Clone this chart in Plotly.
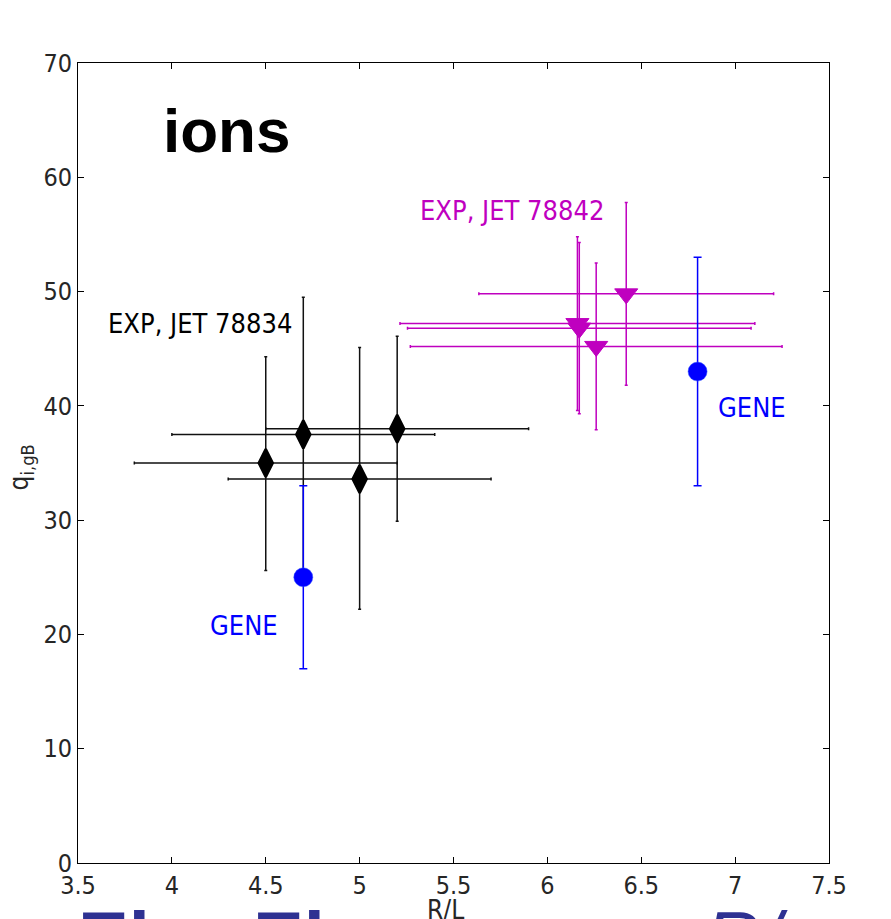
import plotly.graph_objects as go

# ---- data ----
exp1_x = [4.5, 4.7, 5.0, 5.2]
exp1_y = [35.0, 37.5, 33.6, 38.0]
exp1_xerr = [0.70, 0.70, 0.70, 0.70]
exp1_yerr_plus = [9.3, 12.0, 11.5, 8.1]
exp1_yerr_minus = [9.4, 12.0, 11.4, 8.1]

exp2_x = [6.16, 6.17, 6.26, 6.42]
exp2_y = [47.2, 46.8, 45.2, 49.8]
exp2_xerr = [0.945, 0.915, 0.99, 0.785]
exp2_yerr = [7.6, 7.5, 7.3, 8.0]

gene_x = [4.7, 6.8]
gene_y = [25.0, 43.0]
gene_yerr = [8.0, 10.0]

x_ticks = [3.5, 4, 4.5, 5, 5.5, 6, 6.5, 7, 7.5]
y_ticks = [0, 10, 20, 30, 40, 50, 60, 70]

NARROW = "Liberation Sans Narrow, DejaVu Sans Condensed, Arial Narrow, sans-serif"
MAG = "#bf00bf"
BLUE = "#0000ff"

fig = go.Figure()

fig.add_trace(go.Scatter(
    x=exp1_x, y=exp1_y, mode="markers",
    marker=dict(symbol="diamond-tall", size=20, color="black",
                line=dict(color="black", width=2.5)),
    error_x=dict(type="data", array=exp1_xerr, color="#111111", thickness=1.5, width=1.5),
    error_y=dict(type="data", array=exp1_yerr_plus, arrayminus=exp1_yerr_minus,
                 color="#111111", thickness=1.5, width=1.5),
    showlegend=False))

fig.add_trace(go.Scatter(
    x=exp2_x, y=exp2_y, mode="markers",
    marker=dict(symbol="triangle-down", size=20, color=MAG,
                line=dict(color=MAG, width=1)),
    error_x=dict(type="data", array=exp2_xerr, color=MAG, thickness=1.5, width=1.5),
    error_y=dict(type="data", array=exp2_yerr, color=MAG, thickness=1.5, width=1.5),
    showlegend=False))

fig.add_trace(go.Scatter(
    x=gene_x, y=gene_y, mode="markers",
    marker=dict(symbol="circle", size=19, color=BLUE,
                line=dict(color="#3355ff", width=0.5)),
    error_y=dict(type="data", array=gene_yerr, color=BLUE, thickness=1.5, width=4),
    showlegend=False))

TXT = 27
annotations = [
    dict(x=3.94, y=64.1, xref="x", yref="y", text="<b>ions</b>", showarrow=False,
         xanchor="left", yanchor="middle",
         font=dict(family="Liberation Sans, Arial, sans-serif", size=62, color="black")),
    dict(x=3.65, y=47.2, xref="x", yref="y", text="EXP, JET 78834", showarrow=False,
         xanchor="left", yanchor="middle", font=dict(family=NARROW, size=TXT, color="black")),
    dict(x=5.31, y=57.1, xref="x", yref="y", text="EXP, JET 78842", showarrow=False,
         xanchor="left", yanchor="middle", font=dict(family=NARROW, size=TXT, color=MAG)),
    dict(x=6.9, y=39.9, xref="x", yref="y", text="GENE", showarrow=False,
         xanchor="left", yanchor="middle", font=dict(family=NARROW, size=TXT, color=BLUE)),
    dict(x=4.19, y=20.8, xref="x", yref="y", text="GENE", showarrow=False,
         xanchor="left", yanchor="middle", font=dict(family=NARROW, size=TXT, color=BLUE)),
    # axis titles
    dict(x=0.49, y=-0.038, xref="paper", yref="paper", text="R/L", showarrow=False,
         xanchor="center", yanchor="top", font=dict(family=NARROW, size=26, color="#262626")),
    dict(x=-0.052, y=0.495, xref="paper", yref="paper", text="q<sub>i,gB</sub>", showarrow=False,
         textangle=-90, xanchor="right", yanchor="middle",
         font=dict(family=NARROW, size=26, color="#262626")),
    # cut-off slide title fragments below the chart
    dict(x=-0.003, y=-0.039, xref="paper", yref="paper", text="<b>El</b>", showarrow=False,
         xanchor="left", yanchor="top",
         font=dict(family="Liberation Sans, Arial, sans-serif", size=76, color="#2e3192")),
    dict(x=0.23, y=-0.039, xref="paper", yref="paper", text="<b>El</b>", showarrow=False,
         xanchor="left", yanchor="top",
         font=dict(family="Liberation Sans, Arial, sans-serif", size=76, color="#2e3192")),
    dict(x=0.832, y=-0.039, xref="paper", yref="paper", text="<i>R/</i>", showarrow=False,
         xanchor="left", yanchor="top",
         font=dict(family="Liberation Sans, Arial, sans-serif", size=76, color="#2e3192")),
]

axis_common = dict(showline=True, linecolor="black", linewidth=1, mirror="allticks",
                   ticks="inside", ticklen=6, tickwidth=1, tickcolor="black",
                   showgrid=False, zeroline=False,
                   tickfont=dict(family=NARROW, size=25, color="#262626"))

fig.update_layout(
    width=891, height=919,
    margin=dict(l=78, r=62, t=63, b=56),
    paper_bgcolor="white", plot_bgcolor="white",
    xaxis=dict(range=[3.5, 7.5], tickvals=x_ticks, ticktext=[str(t) for t in x_ticks], **axis_common),
    yaxis=dict(range=[0, 70], tickvals=y_ticks, ticktext=[str(t) for t in y_ticks], **axis_common),
    annotations=annotations,
)

fig.write_html("out.html")
